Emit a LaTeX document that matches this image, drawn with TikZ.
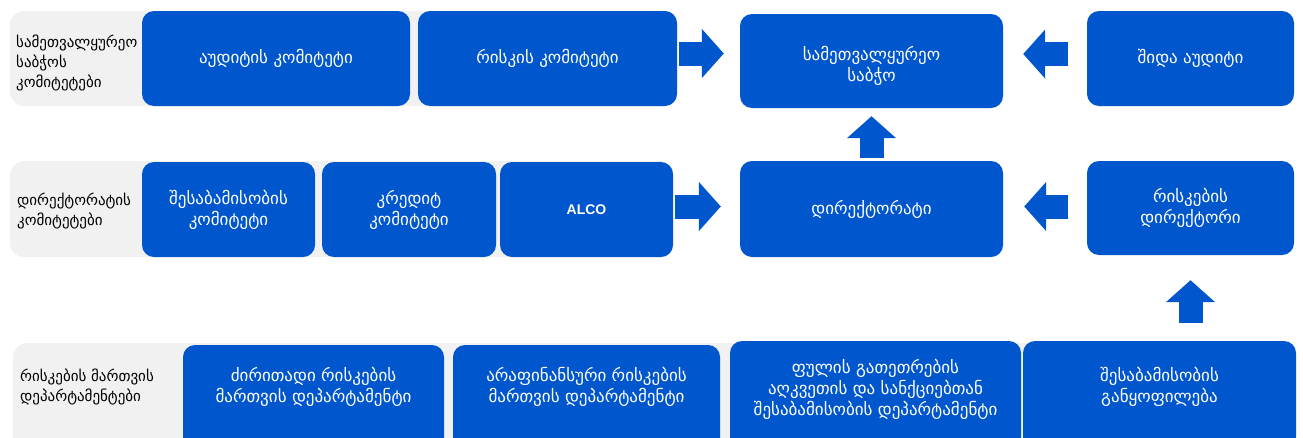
\documentclass[tikz,border=0pt]{standalone}
\usepackage{fontspec}
\setmainfont{DejaVu Sans}
\newfontfamily\alcofont{Liberation Sans}
\usetikzlibrary{arrows.meta}
\definecolor{boxblue}{RGB}{0,86,205}
\definecolor{bandgray}{RGB}{241,241,241}
\tikzset{
  box/.style={fill=boxblue, rounded corners=12pt, inner sep=0pt},
  boxtext/.style={text=white, align=center, font=\fontsize{17}{21}\selectfont},
  band/.style={fill=bandgray, rounded corners=14pt},
  rowlabel/.style={anchor=west, align=left, inner sep=0pt, font=\fontsize{15}{20}\selectfont},
  blockarrow/.style={boxblue, line width=24pt, -{Triangle[length=22pt,width=48pt]}}
}
\begin{document}
\begin{tikzpicture}[x=1pt, y=-1pt]
  \useasboundingbox (0,0) rectangle (1303,437);
  \clip (0,0) rectangle (1303,437);

  \fill[band] (10,11) rectangle (677,106);
  \fill[band] (10,161) rectangle (673,257);
  \fill[band] (13,343) rectangle (1296,460);

  \node[rowlabel] (lab1) at (16,63){სამეთვალყურეო\\საბჭოს\\კომიტეტები};
  \node[rowlabel] (lab2) at (17,211){დირექტორატის\\კომიტეტები};
  \node[rowlabel] (lab3) at (20,387){რისკების მართვის\\დეპარტამენტები};

  % top row
  \node[box, boxtext, minimum width=268pt, minimum height=95pt] (audit) at (276,58.5){აუდიტის კომიტეტი};
  \node[box, boxtext, minimum width=259pt, minimum height=95pt] (riskcom) at (547.5,58.5){რისკის კომიტეტი};
  \node[box, minimum width=263pt, minimum height=94pt] (board) at (871.5,61){};
  \node[boxtext] (board-t) at (871.5,66){სამეთვალყურეო\\საბჭო};
  \node[box, boxtext, minimum width=207pt, minimum height=95pt] (intaudit) at (1190.5,58.5){შიდა აუდიტი};

  % middle row
  \node[box, boxtext, minimum width=173pt, minimum height=95pt] (compl) at (228.5,209.5){შესაბამისობის\\კომიტეტი};
  \node[box, boxtext, minimum width=174pt, minimum height=95pt] (credit) at (409,209.5){კრედიტ\\კომიტეტი};
  \node[box, boxtext, minimum width=173pt, minimum height=95pt, font=\alcofont\bfseries\fontsize{14}{16}\selectfont] (alco) at (586.5,209.5){ALCO};
  \node[box, boxtext, minimum width=263pt, minimum height=96pt] (direct) at (871.5,209){დირექტორატი};
  \node[box, boxtext, minimum width=207pt, minimum height=94pt] (riskdir) at (1190.5,208){რისკების\\დირექტორი};

  % bottom row
  \node[box, minimum width=261pt, minimum height=106pt] (mainrisk) at (313.5,398){};
  \node[box, minimum width=267pt, minimum height=106pt] (nonfin) at (586.5,398){};
  \node[box, minimum width=291pt, minimum height=108pt] (aml) at (875.5,395){};
  \node[box, minimum width=273pt, minimum height=108pt] (compdiv) at (1159.5,395){};
  \node[boxtext] (mainrisk-t) at (313.5,387){ძირითადი რისკების\\მართვის დეპარტამენტი};
  \node[boxtext] (nonfin-t) at (586.5,387){არაფინანსური  რისკების\\მართვის დეპარტამენტი};
  \node[boxtext] (aml-t) at (875.5,389){ფულის გათეთრების\\აღკვეთის და სანქციებთან\\შესაბამისობის დეპარტამენტი};
  \node[boxtext] (compdiv-t) at (1159.5,387){შესაბამისობის\\განყოფილება};

  \draw[blockarrow, shorten <=2pt, shorten >=16pt] ([yshift=5pt]riskcom.east) -- ([yshift=5pt]riskcom.east -| board.west);
  \draw[blockarrow, shorten <=19pt, shorten >=20pt] ([yshift=4.5pt]intaudit.west) -- ([yshift=4.5pt]intaudit.west -| board.east);
  \draw[blockarrow, shorten <=2pt, shorten >=19pt] ([yshift=3pt]alco.east) -- ([yshift=3pt]alco.east -| direct.west);
  \draw[blockarrow, shorten <=19pt, shorten >=21pt] ([yshift=1.5pt]riskdir.west) -- ([yshift=1.5pt]riskdir.west -| direct.east);
  \draw[blockarrow, shorten <=3pt, shorten >=8pt] (direct.north) -- (board.south);
  \draw[blockarrow, shorten <=18pt, shorten >=25pt] (compdiv.north -| riskdir.south) -- (riskdir.south);
\end{tikzpicture}
\end{document}
